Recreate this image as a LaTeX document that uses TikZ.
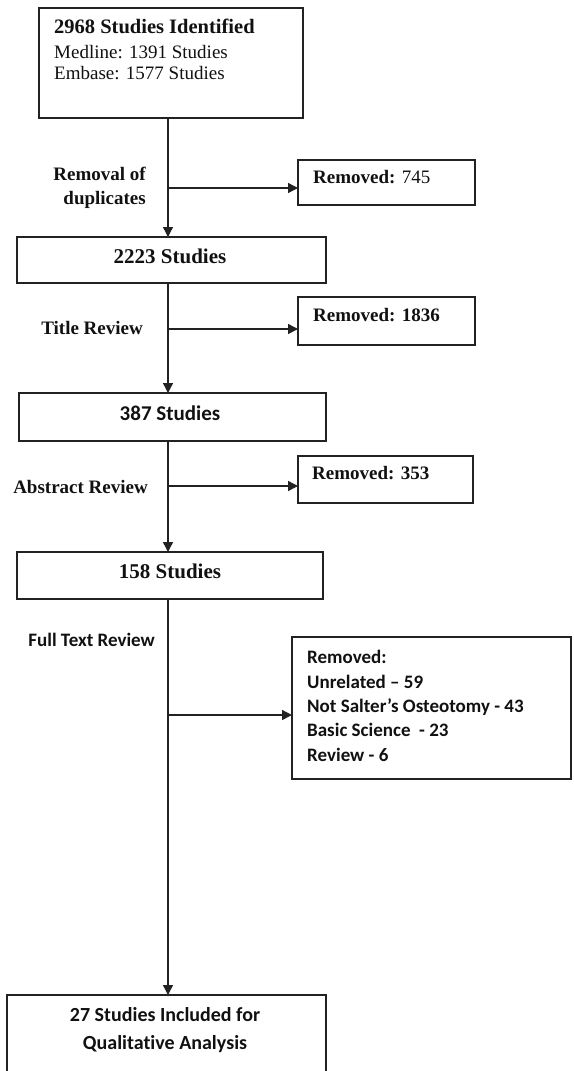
\documentclass[tikz,border=0pt]{standalone}
\usepackage{fontspec}
\setmainfont{Liberation Serif}
\newfontfamily\calfont[Ligatures={NoCommon}]{Carlito}
\usetikzlibrary{arrows.meta}
\definecolor{ln}{HTML}{222222}
\definecolor{tx}{HTML}{111111}
\begin{document}
\begin{tikzpicture}[x=1pt,y=-1pt,
  box/.style={draw=ln, line width=1.6pt, anchor=north west, inner sep=0pt, outer sep=0pt, fill=white},
  flow/.style={draw=ln, line width=1.4pt, -{Triangle[length=10pt,width=10pt]}},
  trunk/.style={draw=ln, line width=1.4pt},
  tb/.style={font=\fontsize{19}{22}\selectfont\bfseries, inner sep=0pt, text=tx},
  tbig/.style={font=\fontsize{21}{24}\selectfont\bfseries, inner sep=0pt, text=tx},
  tr/.style={font=\fontsize{19}{22}\selectfont, inner sep=0pt, text=tx},
  cb/.style={font=\calfont\fontsize{19}{22}\selectfont\bfseries, inner sep=0pt, text=tx},
  cbig/.style={font=\calfont\fontsize{21}{24}\selectfont\bfseries, inner sep=0pt, text=tx},
  cbot/.style={font=\calfont\fontsize{20}{24}\selectfont\bfseries, inner sep=0pt, text=tx}
]
\useasboundingbox (0,0) rectangle (573,1071);
\clip (0,0) rectangle (573,1071);

% main boxes
\node[box, minimum width=264pt, minimum height=110pt] (top) at (39,8) {};
\node[box, minimum width=309pt, minimum height=46pt] (b2) at (17,237) {};
\node[box, minimum width=307pt, minimum height=48pt] (b3) at (19,393) {};
\node[box, minimum width=306pt, minimum height=47pt] (b4) at (17,552) {};
\node[box, minimum width=319pt, minimum height=85pt] (b5) at (7,995) {};

% removed boxes
\node[box, minimum width=177pt, minimum height=45pt] (r1) at (298,160) {};
\node[box, minimum width=177pt, minimum height=48pt] (r2) at (298,297) {};
\node[box, minimum width=175pt, minimum height=47pt] (r3) at (298,456) {};
\node[box, minimum width=279pt, minimum height=142pt] (r4) at (292,637) {};

% texts of the top box
\node[tb, font=\fontsize{20.5}{24}\selectfont\bfseries, anchor=base west] (t1) at (54,33) {2968 Studies Identified};
\node[tr, anchor=base west] (t2) at (54,58.5) {Medline: 1391 Studies};
\node[tr, anchor=base west] (t3) at (54,79.5) {Embase: 1577 Studies};

% texts of main boxes
\node[tbig, anchor=base] (s2) at (170,263) {2223 Studies};
\node[cbig, anchor=base] (s3) at (170,420) {387 Studies};
\node[tbig, anchor=base] (s4) at (170,578) {158 Studies};
\node[cbot, anchor=base] (s5a) at (165,1021.5) {27 Studies Included for};
\node[cbot, anchor=base] (s5b) at (165,1049.5) {Qualitative Analysis};

% texts of removed boxes
\node[tb, anchor=base west] (q1) at (313,183.5) {Removed: \mdseries 745};
\node[tb, anchor=base west] (q2) at (313,321.5) {Removed: 1836};
\node[tb, anchor=base west] (q3) at (312,479.5) {Removed: 353};
\node[cb, anchor=base west] (q4a) at (307,663) {Removed:};
\node[cb, anchor=base west] (q4b) at (307,688) {Unrelated – 59};
\node[cb, anchor=base west] (q4c) at (307,712) {Not Salter’s Osteotomy - 43};
\node[cb, anchor=base west] (q4d) at (307,736) {Basic Science~ - 23};
\node[cb, anchor=base west] (q4e) at (307,761) {Review - 6};

% step labels
\node[tb, anchor=base east] (l1a) at (146,180.5) {Removal of};
\node[tb, anchor=base east] (l1b) at (146,204) {duplicates};
\node[tb, anchor=base east] (l2) at (143,334) {Title Review};
\node[tb, anchor=base east] (l3) at (148,493) {Abstract Review};
\node[cb, anchor=base east] (l4) at (155,646) {Full Text Review};

% trunk and branches
\coordinate (tk) at (168,0);
\draw[flow] (tk |- top.south) -- (tk |- b2.north);
\draw[flow] (tk |- b2.south) -- (tk |- b3.north);
\draw[flow] (tk |- b3.south) -- (tk |- b4.north);
\draw[flow] (tk |- b4.south) -- (tk |- b5.north);

\coordinate (j1) at (168,188);
\coordinate (j2) at (168,329);
\coordinate (j3) at (168,486);
\coordinate (j4) at (168,715);
\draw[flow] (j1) -- (j1 -| r1.west);
\draw[flow] (j2) -- (j2 -| r2.west);
\draw[flow] (j3) -- (j3 -| r3.west);
\draw[flow] (j4) -- (j4 -| r4.west);
\end{tikzpicture}
\end{document}
